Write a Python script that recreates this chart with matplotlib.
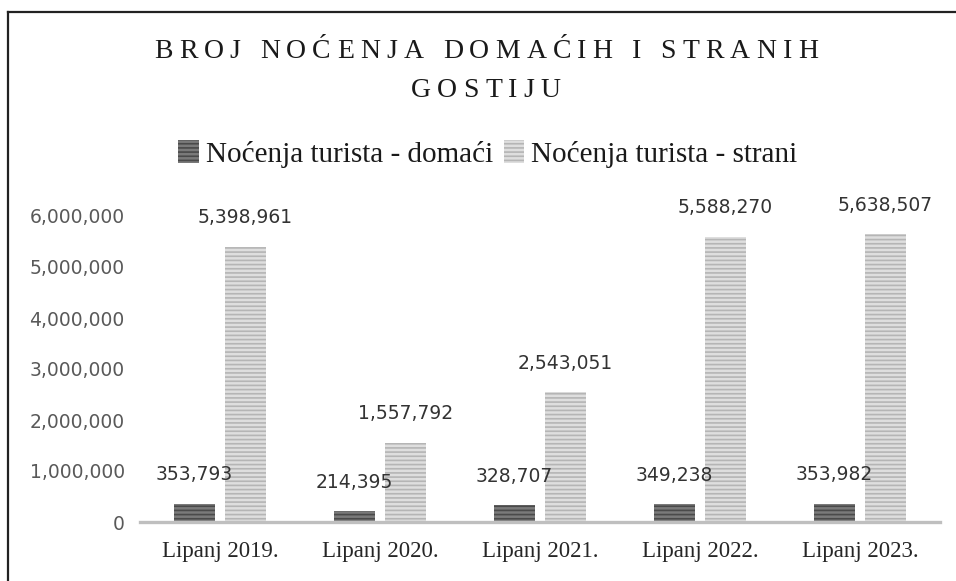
import matplotlib
matplotlib.use("Agg")
import matplotlib.pyplot as plt
from matplotlib.lines import Line2D
from matplotlib.patches import Patch
import numpy as np

# data
categories = ["Lipanj 2019.", "Lipanj 2020.", "Lipanj 2021.", "Lipanj 2022.", "Lipanj 2023."]
domaci = [353793, 214395, 328707, 349238, 353982]
strani = [5398961, 1557792, 2543051, 5588270, 5638507]
series_names = ["Noćenja turista - domaći", "Noćenja turista - strani"]
yticks = [0, 1000000, 2000000, 3000000, 4000000, 5000000, 6000000]
title_lines = ["BROJ NOĆENJA DOMAĆIH I STRANIH", "GOSTIJU"]

W, H = 956, 581
fig = plt.figure(figsize=(W / 100, H / 100), dpi=100)

# axes placed in pixel terms
left, right, bottom, top = 140, 940, 522, 216
ax = fig.add_axes([left / W, (H - bottom) / H, (right - left) / W, (bottom - top) / H])

x = np.arange(len(categories))
bw = 0.256
off = 0.16

plt.rcParams['hatch.linewidth'] = 1.2
b1 = ax.bar(x - off, domaci, bw, color='#7a7a7a', edgecolor='#4a4a4a', hatch='----', linewidth=0)
b2 = ax.bar(x + off, strani, bw, color='#dedede', edgecolor='#b5b5b5', hatch='----', linewidth=0)

# data labels
for bars, vals in [(b1, domaci), (b2, strani)]:
    for r, v in zip(bars, vals):
        ax.annotate(f"{v:,}", (r.get_x() + r.get_width() / 2, v),
                    xytext=(0, 29), textcoords='offset pixels',
                    ha='center', va='center', fontsize=13.5, color='#333333',
                    family='DejaVu Sans')

ax.set_xlim(-0.5, len(categories) - 0.5)
ax.set_ylim(0, 6000000)
ax.set_yticks(yticks)
ax.set_yticklabels([f"{t:,}" for t in yticks], fontsize=13.5, color='#595959', family='DejaVu Sans')
ax.set_xticks(x)
ax.set_xticklabels(categories, fontsize=16.5, family='Liberation Serif', color='#262626')
ax.tick_params(axis='y', length=0, pad=11)
ax.tick_params(axis='x', length=0, pad=14)
for s in ['top', 'right', 'left']:
    ax.spines[s].set_visible(False)
ax.spines['bottom'].set_color('#bfbfbf')
ax.spines['bottom'].set_linewidth(2.4)

# title drawn letter by letter to get the wide letter spacing
renderer = fig.canvas.get_renderer()
def tracked_text(s, xc, y, size, tracking):
    texts, widths = [], []
    for c in s:
        t = fig.text(0, 1 - y / H, c, fontsize=size, family='Liberation Serif',
                     va='center', ha='left', color='#1a1a1a')
        if c == ' ':
            w = 0.25 * size * 100 / 72
        else:
            w = t.get_window_extent(renderer).width
        texts.append(t)
        widths.append(w)
    total = sum(widths) + tracking * (len(s) - 1)
    xp = xc - total / 2
    for t, w in zip(texts, widths):
        t.set_x(xp / W)
        xp += w + tracking

tracked_text(title_lines[0], 486, 51, 20, 6.2)
tracked_text(title_lines[1], 486, 91, 20, 6.2)

# legend
handles = [Patch(facecolor='#7a7a7a', edgecolor='#4a4a4a', hatch='----', linewidth=0),
           Patch(facecolor='#dedede', edgecolor='#b5b5b5', hatch='----', linewidth=0)]
fig.legend(handles, series_names, loc='center', bbox_to_anchor=(488 / W, 1 - 154 / H),
           ncol=2, frameon=False, prop={'family': 'Liberation Serif', 'size': 21},
           handlelength=0.7, handleheight=0.8, handletextpad=0.25, columnspacing=0.35,
           labelcolor='#1a1a1a')

# chart border (left and top edge)
fig.add_artist(Line2D([7.5 / W, 7.5 / W], [0, 1 - 11.5 / H], transform=fig.transFigure,
                      color='#222222', linewidth=1.6))
fig.add_artist(Line2D([7.5 / W, 1], [1 - 11.5 / H, 1 - 11.5 / H], transform=fig.transFigure,
                      color='#222222', linewidth=1.6))

fig.savefig("out.png", dpi=100)
